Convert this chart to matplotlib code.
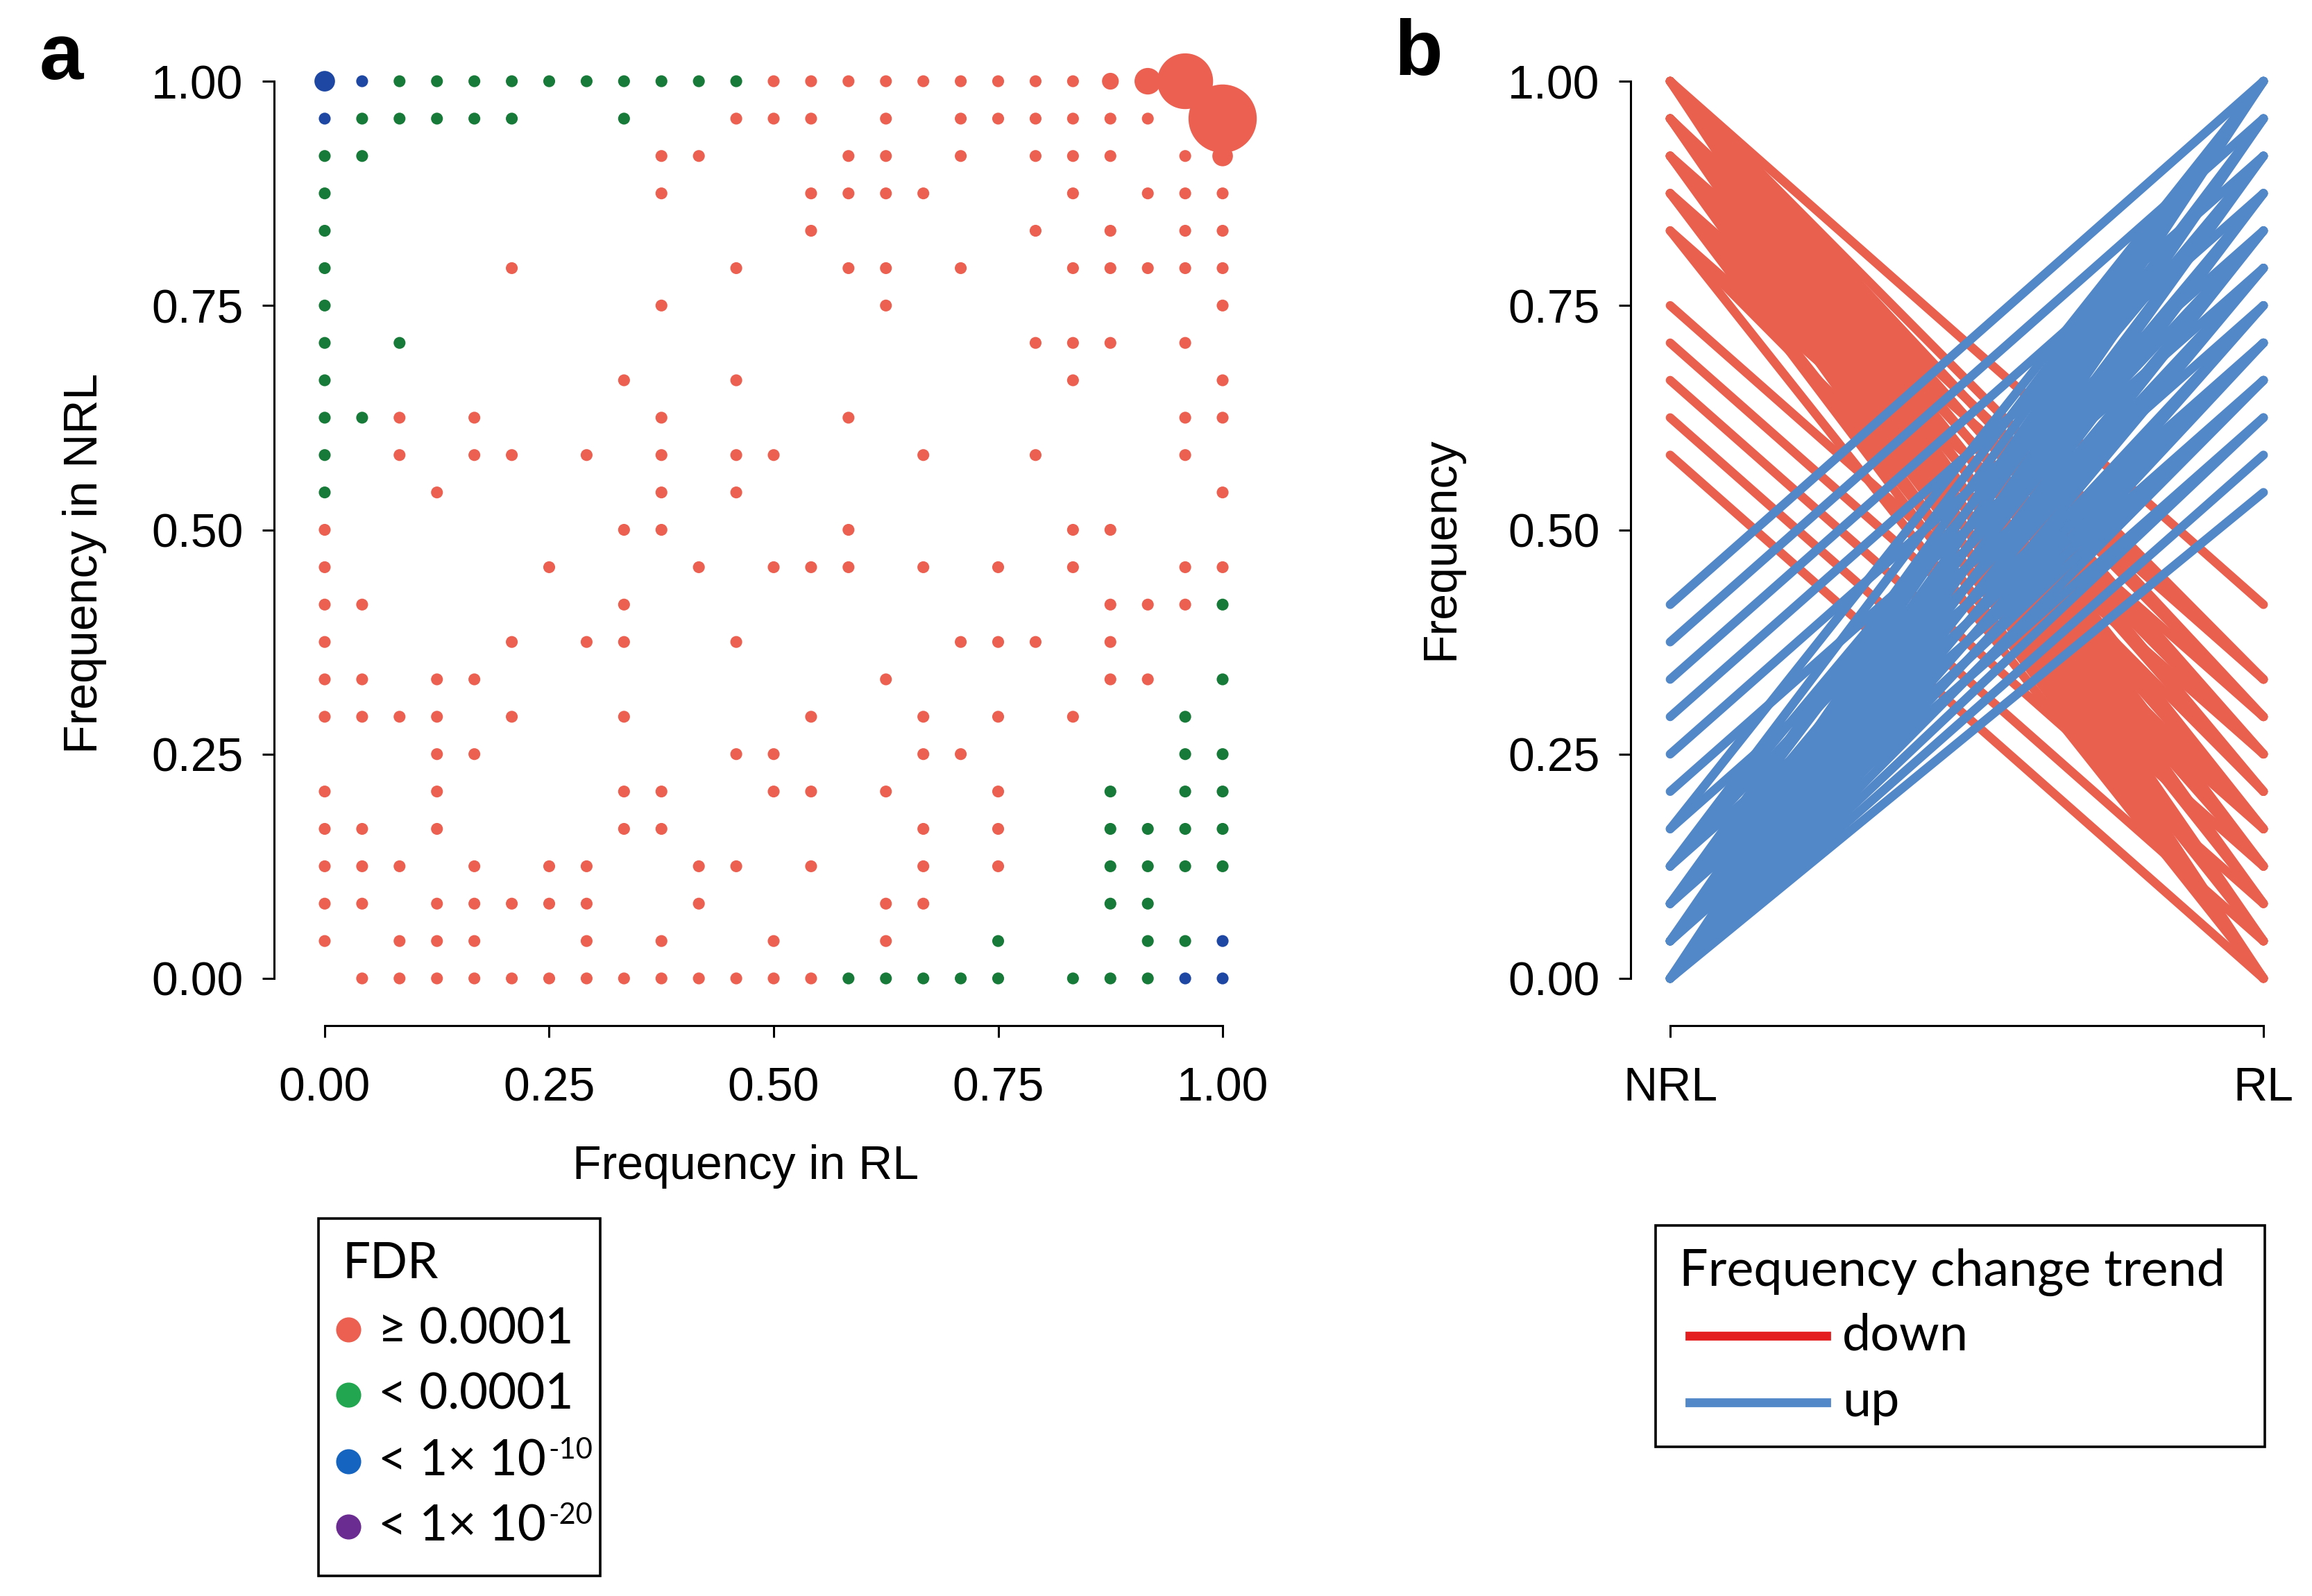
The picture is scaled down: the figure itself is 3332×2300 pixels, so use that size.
"""
plot.py - Tan so alen o nhom RL va NRL (a) va xu huong thay doi tan so (b).
Output: out.png
"""

import numpy as np
import matplotlib.pyplot as plt
from matplotlib.patches import Rectangle
from matplotlib.lines import Line2D

W, H = 3332, 2300          # kich thuoc anh (px)
N_IND = 24                 # tan so = so dem / 24

# ---- Panel a: moi dong NRL (so dem) -> cac gia tri RL (so dem) ----
red_rows = {
    24: [12, 13, 14, 15, 16, 17, 18, 19, 20, 21, 22, 23],
    23: [11, 12, 13, 15, 17, 18, 19, 20, 21, 22, 24],
    22: [9, 10, 14, 15, 17, 19, 20, 21, 23, 24],
    21: [9, 13, 14, 15, 16, 20, 22, 23, 24],
    20: [13, 19, 21, 23, 24],
    19: [5, 11, 14, 15, 17, 20, 21, 22, 23, 24],
    18: [9, 15, 24],
    17: [19, 20, 21, 23],
    16: [8, 11, 20, 24],
    15: [2, 4, 9, 14, 23, 24],
    14: [2, 4, 5, 7, 9, 11, 12, 16, 19, 23],
    13: [3, 9, 11, 24],
    12: [0, 8, 9, 14, 20, 21],
    11: [0, 6, 10, 12, 13, 14, 16, 18, 20, 23, 24],
    10: [0, 1, 8, 21, 22, 23],
    9: [0, 5, 7, 8, 11, 17, 18, 19, 21],
    8: [0, 1, 3, 4, 15, 21, 22],
    7: [0, 1, 2, 3, 5, 8, 13, 16, 18, 20],
    6: [3, 4, 11, 12, 16, 17],
    5: [0, 3, 8, 9, 12, 13, 15, 18],
    4: [0, 1, 3, 8, 9, 16, 18],
    3: [0, 1, 2, 4, 6, 7, 10, 11, 13, 16, 18],
    2: [0, 1, 3, 4, 5, 6, 7, 10, 15, 16],
    1: [0, 2, 3, 4, 7, 9, 12, 15],
    0: [1, 2, 3, 4, 5, 6, 7, 8, 9, 10, 11, 12, 13],
}
green_rows = {
    24: [2, 3, 4, 5, 6, 7, 8, 9, 10, 11],
    23: [1, 2, 3, 4, 5, 8],
    22: [0, 1],
    21: [0], 20: [0], 19: [0], 18: [0],
    17: [0, 2], 16: [0], 15: [0, 1], 14: [0], 13: [0],
    10: [24], 8: [24], 7: [23], 6: [23, 24],
    5: [21, 23, 24], 4: [21, 22, 23, 24], 3: [21, 22, 23, 24],
    2: [21, 22], 1: [18, 22, 23],
    0: [14, 15, 16, 17, 18, 20, 21, 22],
}
blue_rows = {24: [0, 1], 23: [0], 1: [24], 0: [23, 24]}

# so bien the trung nhau tai mot diem (RL, NRL) -> kich thuoc diem
point_count = {(21, 24): 2, (22, 24): 5, (23, 24): 22, (24, 23): 33,
               (24, 22): 3, (0, 24): 3}

# ---- Panel b: NRL (so dem) -> cac gia tri RL (so dem) ----
down_lines = {
    24: [10, 8, 7, 6, 5, 4, 3, 2, 1, 0],
    23: [8, 7, 6, 5, 4, 3, 2, 1, 0],
    22: [8, 6, 4, 3, 2, 1, 0],
    21: [7, 5, 3, 1, 0],
    20: [6, 4, 0],
    18: [4], 17: [3], 16: [2], 15: [1], 14: [0],
}
up_lines = {
    0: [24, 23, 22, 21, 20, 19, 18, 17, 16, 15, 14, 13],
    1: [24, 23, 22, 21, 20, 19, 18, 17, 16, 15],
    2: [24, 23, 21, 19, 17, 16],
    3: [24, 22, 20, 17],
    4: [24, 18],
    5: [19], 6: [20], 7: [21], 8: [22], 9: [23], 10: [24],
}

freq_ticks = [0, 0.25, 0.5, 0.75, 1.0]
freq_labels = ["0.00", "0.25", "0.50", "0.75", "1.00"]
group_labels = ["NRL", "RL"]
fdr_labels = ["\u2265 0.0001", "< 0.0001", "< 1\u00d7 10", "< 1\u00d7 10"]
fdr_sup = [None, None, "-10", "-20"]
trend_labels = ["down", "up"]

C_RED = "#EB6050"
C_GREEN = "#187A38"
C_BLUE = "#1D47A3"
LEG_COLORS = ["#EB6050", "#22A64F", "#1565C0", "#6A2C91"]
LINE_DOWN = "#E9604F"
LINE_UP = "#5288C8"

plt.rcParams["font.family"] = ["Liberation Sans", "DejaVu Sans"]
LEG_FONT = ["Lato", "DejaVu Sans"]
FS = 24.5
LFS = 25.5


def rect(x0, x1, ytop, ybot):
    """Doi toa do pixel sang toa do figure."""
    return [x0 / W, 1 - ybot / H, (x1 - x0) / W, (ybot - ytop) / H]


def fx(x):
    return x / W


def fy(y):
    return 1 - y / H


def to_points(rows):
    rl, nrl, s = [], [], []
    for n_c, rl_list in rows.items():
        for r_c in rl_list:
            rl.append(r_c / N_IND)
            nrl.append(n_c / N_IND)
            s.append(38 * point_count.get((r_c, n_c), 1))
    order = np.argsort(s)
    return np.array(rl)[order], np.array(nrl)[order], np.array(s)[order]


def style_axes(ax):
    for side in ["top", "right"]:
        ax.spines[side].set_visible(False)
    for side in ["left", "bottom"]:
        ax.spines[side].set_linewidth(1.1)
        ax.spines[side].set_bounds(0, 1)
    ax.set_yticks(freq_ticks)
    ax.set_yticklabels(freq_labels)
    ax.tick_params(axis="both", direction="out", length=6, width=1.1,
                   labelsize=FS)
    ax.tick_params(axis="y", pad=10)
    ax.tick_params(axis="x", pad=15)


fig = plt.figure(figsize=(W / 200, H / 200), dpi=200)

# ---------------- Panel a ----------------
ax_a = fig.add_axes(rect(395, 1820, 59, 1478))
ax_a.set_xlim(-0.0564, 1.0448)
ax_a.set_ylim(-0.0526, 1.0449)
for rows, col in [(red_rows, C_RED), (green_rows, C_GREEN), (blue_rows, C_BLUE)]:
    x, y, s = to_points(rows)
    ax_a.scatter(x, y, s=s, c=col, linewidths=0, clip_on=False, zorder=3)
style_axes(ax_a)
ax_a.set_xticks(freq_ticks)
ax_a.set_xticklabels(freq_labels)

fig.text(fx(122), fy(812), "Frequency in NRL", rotation=90, ha="center",
         va="center", fontsize=FS)
fig.text(fx(1075), fy(1681), "Frequency in RL", ha="center", va="center",
         fontsize=FS)
fig.text(fx(88), fy(85), "a", ha="center", va="center", fontsize=41,
         fontweight="bold")

# ---------------- Panel b ----------------
ax_b = fig.add_axes(rect(2350, 3300, 59, 1478))
ax_b.set_xlim(-0.0667, 1.0444)
ax_b.set_ylim(-0.0526, 1.0449)
for lines, col in [(down_lines, LINE_DOWN), (up_lines, LINE_UP)]:
    for n_c, rl_list in lines.items():
        for r_c in rl_list:
            ax_b.plot([0, 1], [n_c / N_IND, r_c / N_IND], color=col, lw=4.6,
                      solid_capstyle="round", clip_on=False, zorder=3)
style_axes(ax_b)
ax_b.set_xticks([0, 1])
ax_b.set_xticklabels(group_labels)

fig.text(fx(2076), fy(790), "Frequency", rotation=90, ha="center",
         va="center", fontsize=FS)
fig.text(fx(2044), fy(79), "b", ha="center", va="center", fontsize=41,
         fontweight="bold")

# ---------------- Legend a ----------------
fig.add_artist(Rectangle((fx(459), fy(2271)), (865 - 459) / W, (2271 - 1756) / H,
                         transform=fig.transFigure, fill=False, lw=1.3,
                         edgecolor="black"))
fig.text(fx(494), fy(1822), "FDR", ha="left", va="center", fontsize=LFS,
         family=LEG_FONT)
renderer = fig.canvas.get_renderer()
for i, (lab, sup, col) in enumerate(zip(fdr_labels, fdr_sup, LEG_COLORS)):
    yy = [1916, 2010, 2106, 2200][i]
    fig.add_artist(Line2D([fx(502)], [fy(yy)], marker="o", markersize=13,
                          markerfacecolor=col, markeredgewidth=0,
                          linestyle="none", transform=fig.transFigure))
    t = fig.text(fx(545), fy(yy), lab, ha="left", va="center", fontsize=LFS,
                 family=LEG_FONT)
    if sup:
        bb = t.get_window_extent(renderer)
        fig.text(bb.x1 / W + 0.001, fy(yy - 16), sup, ha="left", va="center",
                 fontsize=15, family=LEG_FONT)

# ---------------- Legend b ----------------
fig.add_artist(Rectangle((fx(2386), fy(2085)), (3264 - 2386) / W, (2085 - 1766) / H,
                         transform=fig.transFigure, fill=False, lw=1.3,
                         edgecolor="black"))
fig.text(fx(2420), fy(1833), "Frequency change trend", ha="left", va="center",
         fontsize=LFS + 1, family=LEG_FONT)
for lab, col, yy in zip(trend_labels, ["#E41E1E", LINE_UP], [1925, 2021]):
    fig.add_artist(Line2D([fx(2435), fx(2632)], [fy(yy), fy(yy)], color=col,
                          lw=4.6, transform=fig.transFigure))
    fig.text(fx(2655), fy(yy), lab, ha="left", va="center", fontsize=LFS + 1,
             family=LEG_FONT)

fig.savefig("out.png", dpi=200, facecolor="white")
